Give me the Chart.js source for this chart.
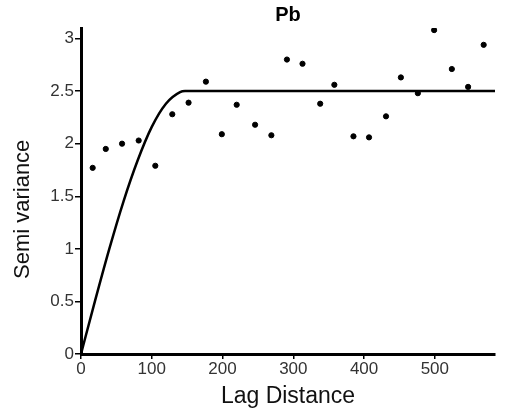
<!DOCTYPE html>
<html>
<head>
<meta charset="utf-8">
<script src="https://cdn.jsdelivr.net/npm/chart.js@4"></script>
<style>
  html, body { margin: 0; padding: 0; background: #fff; }
  #wrap { width: 505px; height: 408px; }
</style>
</head>
<body>
<div id="wrap"><canvas id="grafikPb"></canvas></div>
<script>
// observed semivariance (lag distance vs semi variance)
const lagJarak = [16.5, 35, 58, 81.5, 105, 129, 152, 176.5, 199, 220, 246, 269, 291, 313, 338, 358, 385, 407, 431, 452, 476, 499, 524, 547, 569];
const semiVar = [1.77, 1.95, 2.00, 2.03, 1.79, 2.28, 2.39, 2.59, 2.09, 2.37, 2.18, 2.08, 2.80, 2.76, 2.38, 2.56, 2.07, 2.06, 2.26, 2.63, 2.48, 3.08, 2.71, 2.54, 2.94];

// fitted model curve
const modelX = [0, 20, 40, 60, 80, 100, 120, 140, 147, 585];
const modelY = [0, 0.51, 1.0, 1.45, 1.84, 2.16, 2.38, 2.49, 2.5, 2.5];

const xTicks = [0, 100, 200, 300, 400, 500];
const yTicks = [0, 0.5, 1, 1.5, 2, 2.5, 3];

const huruf = 'Liberation Sans, Arial, sans-serif';

const data = {
  datasets: [
    {
      label: 'Observed',
      data: lagJarak.map((x, i) => ({ x: x, y: semiVar[i] })),
      backgroundColor: '#000',
      borderColor: '#000',
      pointRadius: 2.6,
      pointHoverRadius: 2.6,
    },
    {
      label: 'Model',
      data: modelX.map((x, i) => ({ x: x, y: modelY[i] })),
      showLine: true,
      borderColor: '#000',
      borderWidth: 2.5,
      pointRadius: 0,
      cubicInterpolationMode: 'monotone',
    }
  ]
};

const config = {
  type: 'scatter',
  data: data,
  options: {
    responsive: true,
    maintainAspectRatio: false,
    animation: false,
    layout: {
      padding: { left: 0, right: 10, top: 0, bottom: 0 }
    },
    scales: {
      x: {
        type: 'linear',
        min: 0,
        max: 585,
        afterFit: (s) => { s.height = 54; },
        afterBuildTicks: (s) => { s.ticks = xTicks.map(v => ({ value: v })); },
        border: { display: true, color: '#000', width: 3 },
        grid: { display: true, drawOnChartArea: false, drawTicks: true, tickLength: 5, color: '#000', lineWidth: 1.5 },
        ticks: { color: '#333', padding: 0, font: { family: huruf, size: 17 }, callback: (v) => String(v) },
        title: {
          display: true,
          text: 'Lag Distance',
          color: '#111',
          font: { family: huruf, size: 23, lineHeight: 1 },
          padding: { top: 0, bottom: 0 }
        }
      },
      y: {
        type: 'linear',
        min: 0,
        max: 3.1,
        afterFit: (s) => { s.width = 81; },
        afterBuildTicks: (s) => { s.ticks = yTicks.map(v => ({ value: v })); },
        border: { display: true, color: '#000', width: 3 },
        grid: { display: true, drawOnChartArea: false, drawTicks: true, tickLength: 6, color: '#000', lineWidth: 1.5 },
        ticks: { color: '#333', padding: 1, font: { family: huruf, size: 17 }, callback: (v) => String(v) },
        title: {
          display: true,
          text: 'Semi variance      ',
          color: '#111',
          font: { family: huruf, size: 22, lineHeight: 1.2 },
          padding: { top: 10, bottom: 0 }
        }
      }
    },
    plugins: {
      legend: { display: false },
      tooltip: { enabled: false },
      title: {
        display: true,
        text: 'Pb',
        fullSize: false,
        color: '#000',
        font: { family: huruf, size: 20, weight: 'bold', lineHeight: 1.2 },
        padding: { top: 3, bottom: 1 }
      }
    }
  }
};

// render init block
const grafik = new Chart(document.getElementById('grafikPb'), config);
</script>
</body>
</html>
